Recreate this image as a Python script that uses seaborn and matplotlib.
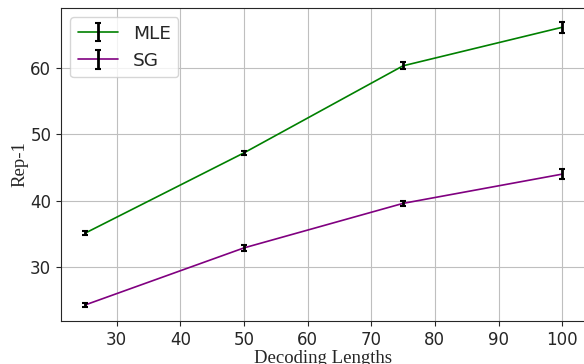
import matplotlib
matplotlib.use("Agg")
import matplotlib.pyplot as plt
import seaborn as sns
import pandas as pd
from matplotlib.legend_handler import HandlerTuple

lengths = [25, 50, 75, 100]
mle_vals = [35.1, 47.2, 60.3, 66.1]
mle_err = [0.3, 0.3, 0.5, 0.8]
sg_vals = [24.3, 32.9, 39.6, 44.0]
sg_err = [0.3, 0.4, 0.4, 0.7]

sns.set_style("ticks", {"axes.grid": True, "grid.color": ".75"})

df = pd.DataFrame({
    "Decoding Lengths": lengths * 2,
    "Rep-1": mle_vals + sg_vals,
    "Method": ["MLE"] * 4 + ["SG"] * 4,
})

fig = plt.figure(figsize=(5.84, 3.64), dpi=100)
ax = fig.add_axes([61 / 584, 43 / 364, 525 / 584, 313 / 364])

sns.lineplot(data=df, x="Decoding Lengths", y="Rep-1", hue="Method",
             palette={"MLE": "green", "SG": "purple"}, legend=False,
             ax=ax, linewidth=1.2)

ebs = []
for vals, errs in [(mle_vals, mle_err), (sg_vals, sg_err)]:
    eb = ax.errorbar(lengths, vals, yerr=errs, fmt="none", ecolor="black",
                     elinewidth=2, capsize=2.5, capthick=1.5, zorder=3)
    ebs.append(eb)

handles = [(ax.lines[0], ebs[0]), (ax.lines[1], ebs[1])]
ax.legend(handles, ["MLE", "SG"], handler_map={tuple: HandlerTuple(ndivide=1)},
          loc="upper left", fontsize=13.3, frameon=True, handlelength=2.2)

ax.set_xlim(21.25, 103.75)
ax.set_ylim(21.9, 69.0)
ax.tick_params(labelsize=12)
ax.set_xlabel("Decoding Lengths", fontsize=13.5, family="Liberation Serif", labelpad=1)
ax.set_ylabel("Rep-1", fontsize=13.5, family="Liberation Serif", labelpad=1)

fig.savefig("out.png", dpi=100)
